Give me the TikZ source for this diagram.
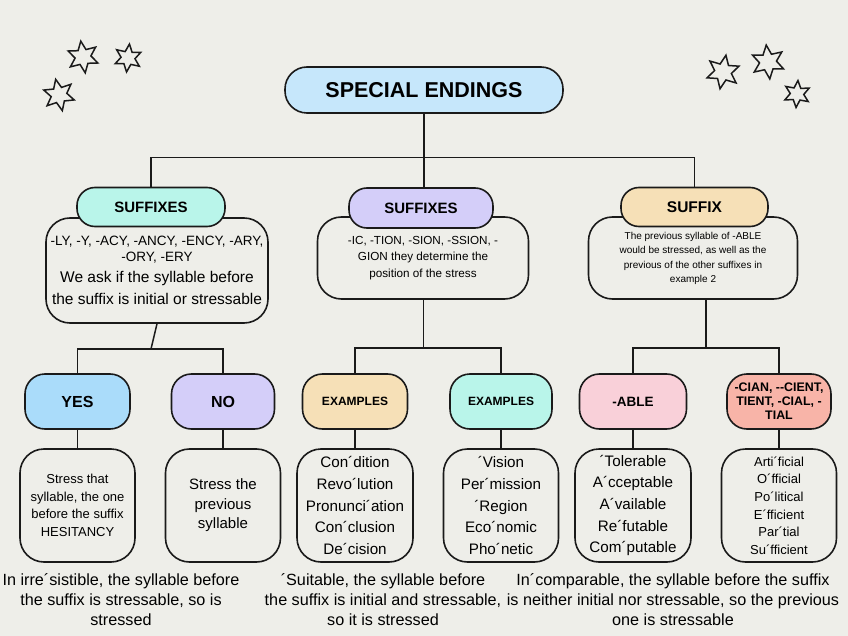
\documentclass[tikz,border=0pt]{standalone}
\usepackage{fontspec}
\setmainfont{Liberation Sans}
\newfontfamily\headfont{Liberation Sans}
\usetikzlibrary{shapes.geometric,positioning}
\definecolor{paper}{HTML}{EEEEE9}
\definecolor{ink}{HTML}{1A1A1A}
\definecolor{skyblue}{HTML}{C6E7FB}
\definecolor{icyblue}{HTML}{AADCFA}
\definecolor{mint}{HTML}{B9F5EA}
\definecolor{lavender}{HTML}{D4CEF9}
\definecolor{sand}{HTML}{F6E0B7}
\definecolor{rose}{HTML}{F9D0D9}
\definecolor{salmon}{HTML}{F8B4A8}

\begin{document}
\begin{tikzpicture}[x=1pt,y=-1pt,
  pill/.style={draw=ink,line width=1.6pt,rounded corners=18pt,align=center,inner sep=1pt},
  card/.style={draw=ink,line width=1.6pt,rounded corners=24pt,fill=paper,align=center,inner sep=1pt},
  link/.style={draw=ink,line width=1.5pt},
  note/.style={align=center,font=\fontsize{16.2}{20}\selectfont},
  spark/.style={star,star points=6,star point ratio=2,draw=ink,line width=1.5pt,inner sep=0pt}]
 \fill[paper] (0,0) rectangle (848,636);
 \useasboundingbox (0,0) rectangle (848,636);
 % stars
 \foreach \i/\x/\y/\s/\r in {1/83/57/32/8, 2/128/58/28/-6, 3/59/95/32/12,
                             4/723/72/34/-10, 5/768/62/34/6, 6/797/94/27/-4}{
   \node[spark,minimum size=\s,rotate=\r] (star\i) at (\x,\y) {};
 }
 % title
 \node[pill,fill=skyblue,minimum width=278,minimum height=46,rounded corners=22pt,
       font=\headfont\bfseries\fontsize{21.5}{24}\selectfont] (title) at (424,90) {SPECIAL ENDINGS};
 % first level
 \node[card,minimum width=222,minimum height=105,font=\fontsize{15.5}{21.5}\selectfont] (bodyA) at (157,270.5)
   {{\fontsize{13.5}{15}\selectfont -LY, -Y, -ACY, -ANCY, -ENCY, -ARY,}\\[-6pt]
    {\fontsize{13.5}{15}\selectfont -ORY, -ERY}\\
    We ask if the syllable before\\ the suffix is initial or stressable};
 \node[pill,fill=mint,minimum width=148,minimum height=39,
       font=\headfont\bfseries\fontsize{15}{16}\selectfont] (sufA) at (151,207) {SUFFIXES};
 \node[card,minimum width=211,minimum height=82,font=\fontsize{11.7}{16.5}\selectfont] (bodyB) at (423,258)
   {-IC, -TION, -SION, -SSION, -\\ GION they determine the\\ position of the stress};
 \node[pill,fill=lavender,minimum width=144,minimum height=40,
       font=\headfont\bfseries\fontsize{15}{16}\selectfont] (sufB) at (421,208) {SUFFIXES};
 \node[card,minimum width=209,minimum height=82,font=\fontsize{10}{14.5}\selectfont] (bodyC) at (693,258)
   {\mbox{}\\[-6pt] The previous syllable of -ABLE\\ would be stressed, as well as the\\
    previous of the other suffixes in\\ example 2};
 \node[pill,fill=sand,minimum width=147,minimum height=39,
       font=\headfont\bfseries\fontsize{15.5}{16}\selectfont] (sufC) at (694.5,207) {SUFFIX};
 % second level
 \node[pill,fill=icyblue,minimum width=105,minimum height=55,rounded corners=20pt,
       font=\headfont\bfseries\fontsize{16}{18}\selectfont] (yes) at (77.5,401.5) {YES};
 \node[pill,fill=lavender,minimum width=103,minimum height=55,rounded corners=20pt,
       font=\headfont\bfseries\fontsize{16}{18}\selectfont] (no) at (223,401.5) {NO};
 \node[pill,fill=sand,minimum width=105,minimum height=55,rounded corners=20pt,
       font=\headfont\bfseries\fontsize{12}{13}\selectfont] (exA) at (355,401.5) {EXAMPLES};
 \node[pill,fill=mint,minimum width=102,minimum height=55,rounded corners=20pt,
       font=\headfont\bfseries\fontsize{12}{13}\selectfont] (exB) at (501,401.5) {EXAMPLES};
 \node[pill,fill=rose,minimum width=107,minimum height=55,rounded corners=20pt,
       font=\headfont\bfseries\fontsize{13.5}{16}\selectfont] (able) at (633,401.5) {-ABLE};
 \node[pill,fill=salmon,minimum width=104,minimum height=55,rounded corners=20pt,
       font=\headfont\bfseries\fontsize{12.4}{14}\selectfont] (cian) at (779,401.5)
   {-CIAN, --CIENT,\\ TIENT, -CIAL, -\\ TIAL};
 % third level
 \node[card,minimum width=115,minimum height=113,font=\fontsize{13}{17.5}\selectfont] (yesbody) at (77.5,505.5)
   {Stress that\\ syllable, the one\\ before the suffix\\ HESITANCY};
 \node[card,minimum width=115,minimum height=113,font=\fontsize{15}{19.5}\selectfont] (nobody) at (223,505.5)
   {Stress the\\ previous\\ syllable};
 \node[card,minimum width=116,minimum height=113,font=\fontsize{15.2}{21.6}\selectfont] (exAbody) at (355,505.5)
   {Con´dition\\ Revo´lution\\ Pronunci´ation\\ Con´clusion\\ De´cision};
 \node[card,minimum width=115,minimum height=113,font=\fontsize{15.2}{21.6}\selectfont] (exBbody) at (501,505.5)
   {´Vision\\ Per´mission\\ ´Region\\ Eco´nomic\\ Pho´netic};
 \node[card,minimum width=116,minimum height=113,font=\fontsize{15.2}{21.6}\selectfont] (ablebody) at (633,505.5)
   {´Tolerable\\ A´cceptable\\ A´vailable\\ Re´futable\\ Com´putable};
 \node[card,minimum width=115,minimum height=113,font=\fontsize{13}{17.6}\selectfont] (cianbody) at (779,505.5)
   {Arti´ficial\\ O´fficial\\ Po´litical\\ E´fficient\\ Par´tial\\ Su´fficient};
 % notes under the boxes
 \node[note] (noteA) at (121,600) {In irre´sistible, the syllable before\\ the suffix is stressable, so is\\ stressed};
 \node[note] (noteB) at (383,600) {´Suitable, the syllable before\\ the suffix is initial and stressable,\\ so it is stressed};
 \node[note] (noteC) at (673,600) {In´comparable, the syllable before the suffix\\ is neither initial nor stressable, so the previous\\ one is stressable};
 % connectors
 \coordinate (bus) at (424,157.5);
 \coordinate (forkA) at (151,349);
 \coordinate (forkB) at (423.5,348);
 \coordinate (forkC) at (706,348);
 \draw[link] (title.south) -- (title.south |- sufB.north);
 \draw[link] (sufA.north) |- (bus) -| (sufC.north);
 \draw[link] (bodyA.south) -- (forkA);
 \draw[link] (yes.north) |- (forkA) -| (no.north);
 \draw[link] (bodyB.south -| forkB) -- (forkB);
 \draw[link] (exA.north) |- (forkB) -| (exB.north);
 \draw[link] (bodyC.south -| forkC) -- (forkC);
 \draw[link] (able.north) |- (forkC) -| (cian.north);
 \draw[link] (yes) -- (yesbody);
 \draw[link] (no) -- (nobody);
 \draw[link] (exA) -- (exAbody);
 \draw[link] (exB) -- (exBbody);
 \draw[link] (able) -- (ablebody);
 \draw[link] (cian) -- (cianbody);
\end{tikzpicture}
\end{document}
